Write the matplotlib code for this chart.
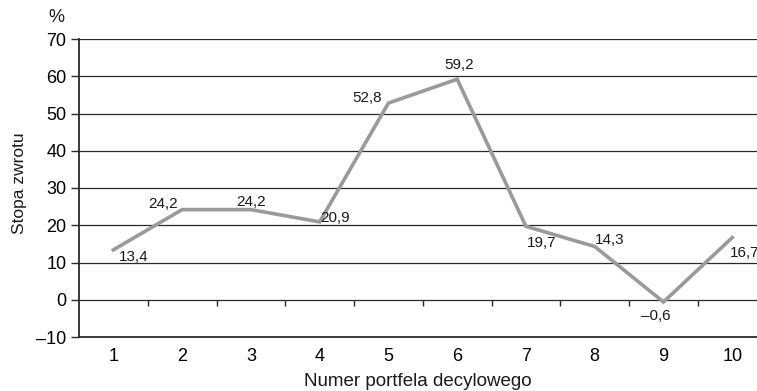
import matplotlib.pyplot as plt

plt.rcParams['font.family'] = ['Liberation Sans', 'DejaVu Sans']

# dane
portfele = [1, 2, 3, 4, 5, 6, 7, 8, 9, 10]
stopy = [13.4, 24.2, 24.2, 20.9, 52.8, 59.2, 19.7, 14.3, -0.6, 16.7]
y_ticks = [-10, 0, 10, 20, 30, 40, 50, 60, 70]

# położenie etykiet względem punktów (w punktach) i wyrównanie
offsets = [(4.3, -5), (-3, 4.3), (0, 5.8), (0.7, 2.9), (-4.3, 3.6),
           (1.4, 10), (11.5, -12.2), (0, 5), (-5.8, -10), (-1.4, -10.8)]
aligns = ['left', 'right', 'center', 'left', 'right',
          'center', 'center', 'left', 'center', 'left']

def fmt(v):
    return ('%.1f' % v).replace('.', ',').replace('-', '\u2013')

def fmt_tick(v):
    return str(v).replace('-', '\u2013')

fig = plt.figure(figsize=(7.57, 3.91), dpi=100)
ax = fig.add_axes([79/757, 54/391, 1 - 79/757, 298/391])

ax.set_xlim(0.5, 10.36)
ax.set_ylim(-10, 70)

# siatka pozioma
for yv in y_ticks[1:]:
    ax.axhline(yv, color='#2a2a2a', lw=0.9, zorder=1)

ax.plot(portfele, stopy, color='#9a9a9a', lw=2.6, zorder=3,
        solid_joinstyle='miter')

for x, y, off, ha in zip(portfele, stopy, offsets, aligns):
    ax.annotate(fmt(y), (x, y), xytext=off, textcoords='offset points',
                ha=ha, va='center', fontsize=11, color='#1a1a1a', zorder=4)

for s in ['top', 'right']:
    ax.spines[s].set_visible(False)
for s in ['left', 'bottom']:
    ax.spines[s].set_color('#2a2a2a')
    ax.spines[s].set_linewidth(1.3)

ax.set_yticks(y_ticks)
ax.set_yticklabels([fmt_tick(v) for v in y_ticks])
ax.tick_params(axis='y', length=6, width=1, color='#2a2a2a',
               labelsize=13, pad=3)

ax.set_xticks(portfele)
ax.tick_params(axis='x', length=0, labelsize=13, pad=8)

# znaczniki na linii zera między kategoriami
sec = ax.secondary_xaxis(10 / 80)
sec.set_xticks([p + 0.5 for p in portfele[:-1]])
sec.set_xticklabels([])
sec.tick_params(axis='x', direction='out', length=4, width=1, color='#2a2a2a')
sec.spines['bottom'].set_visible(False)

fig.text(418/757, 1 - 381/391, 'Numer portfela decylowego', ha='center',
         va='center', fontsize=13.5, color='#1a1a1a')
fig.text(20/757, 1 - 183/391, 'Stopa zwrotu', ha='center', va='center',
         rotation=90, fontsize=12.5, color='#1a1a1a')
fig.text(56/757, 1 - 17/391, '%', ha='center', va='center',
         fontsize=13, color='#1a1a1a')

fig.savefig('out.png', dpi=100)
